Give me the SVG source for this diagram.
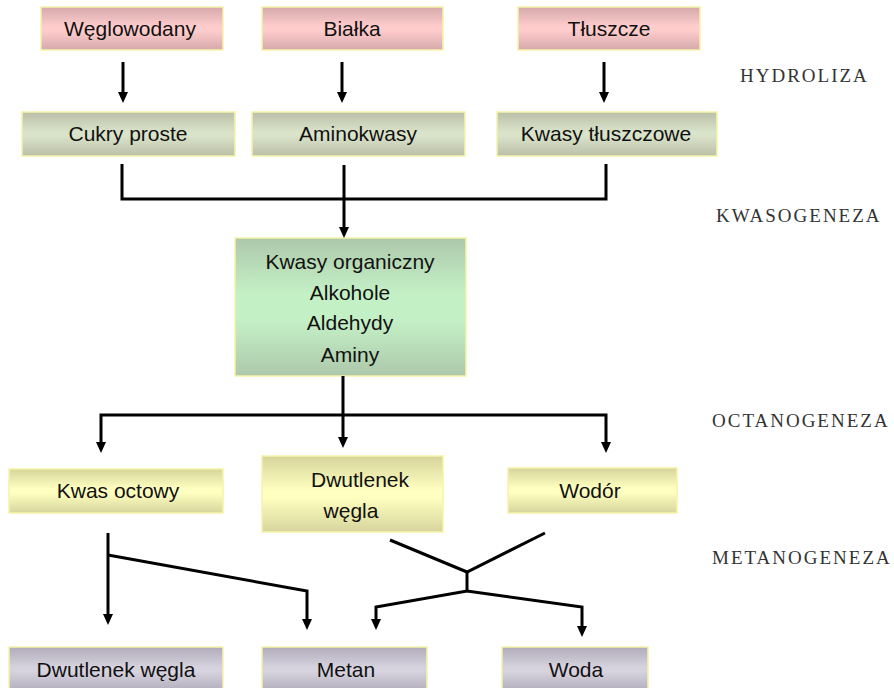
<svg xmlns="http://www.w3.org/2000/svg" width="894" height="688" viewBox="0 0 894 688">
<defs>
<linearGradient id="gPink" x1="0" y1="0" x2="0" y2="1">
<stop offset="0" stop-color="#d4a9ab"/><stop offset="0.45" stop-color="#ffcccc"/><stop offset="0.55" stop-color="#ffcccc"/><stop offset="1" stop-color="#d4a9ab"/>
</linearGradient>
<linearGradient id="gOlive" x1="0" y1="0" x2="0" y2="1">
<stop offset="0" stop-color="#bbbfa8"/><stop offset="0.45" stop-color="#d9e3c9"/><stop offset="0.55" stop-color="#d9e3c9"/><stop offset="1" stop-color="#bbbfa8"/>
</linearGradient>
<linearGradient id="gGreen" x1="0" y1="0" x2="0" y2="1">
<stop offset="0" stop-color="#adc8aa"/><stop offset="0.4" stop-color="#c4f0c6"/><stop offset="0.6" stop-color="#c4f0c6"/><stop offset="1" stop-color="#adc8aa"/>
</linearGradient>
<linearGradient id="gYellow" x1="0" y1="0" x2="0" y2="1">
<stop offset="0" stop-color="#d6d49c"/><stop offset="0.45" stop-color="#ffffc0"/><stop offset="0.55" stop-color="#ffffc0"/><stop offset="1" stop-color="#d6d49c"/>
</linearGradient>
<linearGradient id="gPurple" x1="0" y1="0" x2="0" y2="1">
<stop offset="0" stop-color="#b1abb9"/><stop offset="0.45" stop-color="#d6d2de"/><stop offset="0.55" stop-color="#d6d2de"/><stop offset="1" stop-color="#b1abb9"/>
</linearGradient>
</defs>
<style>
.box{stroke:#f4f4a8;stroke-width:1.5}
.t{font-family:"Liberation Sans",Arial,sans-serif;font-size:21px;fill:#111;text-anchor:middle}
.lab{font-family:"Liberation Serif","Times New Roman",serif;font-size:19px;fill:#333;letter-spacing:2px}
.c{fill:none;stroke:#000;stroke-width:3;stroke-linejoin:miter}
.h{fill:#000}
</style>
<rect width="894" height="688" fill="#fff"/>

<g id="n-weglowodany"><rect class="box" x="41" y="7" width="182" height="43" fill="url(#gPink)"/><text class="t" x="130" y="36">Węglowodany</text></g>
<g id="n-bialka"><rect class="box" x="262" y="7" width="181" height="43" fill="url(#gPink)"/><text class="t" x="352" y="36">Białka</text></g>
<g id="n-tluszcze"><rect class="box" x="518" y="7" width="182" height="43" fill="url(#gPink)"/><text class="t" x="609" y="36">Tłuszcze</text></g>

<g id="n-cukry"><rect class="box" x="22" y="112" width="213" height="44" fill="url(#gOlive)"/><text class="t" x="128" y="141">Cukry proste</text></g>
<g id="n-aminokwasy"><rect class="box" x="252" y="112" width="213" height="44" fill="url(#gOlive)"/><text class="t" x="358" y="141">Aminokwasy</text></g>
<g id="n-kwasyt"><rect class="box" x="497" y="112" width="220" height="44" fill="url(#gOlive)"/><text class="t" x="606" y="141">Kwasy tłuszczowe</text></g>

<g id="n-organiczne"><rect class="box" x="235" y="238" width="231" height="138" fill="url(#gGreen)"/>
<text class="t" x="350" y="269">Kwasy organiczny</text>
<text class="t" x="350" y="300">Alkohole</text>
<text class="t" x="350" y="330">Aldehydy</text>
<text class="t" x="350" y="362">Aminy</text></g>

<g id="n-kwasoctowy"><rect class="box" x="9" y="469" width="214" height="44" fill="url(#gYellow)"/><text class="t" x="118" y="498">Kwas octowy</text></g>
<g id="n-dwutlenek1"><rect class="box" x="262" y="456" width="181" height="76" fill="url(#gYellow)"/><text class="t" x="360" y="487">Dwutlenek</text><text class="t" x="351" y="518">węgla</text></g>
<g id="n-wodor"><rect class="box" x="508" y="468" width="169" height="45" fill="url(#gYellow)"/><text class="t" x="590" y="498">Wodór</text></g>

<g id="n-dwutlenek2"><rect class="box" x="9" y="647" width="214" height="45" fill="url(#gPurple)"/><text class="t" x="116" y="677">Dwutlenek węgla</text></g>
<g id="n-metan"><rect class="box" x="262" y="647" width="165" height="45" fill="url(#gPurple)"/><text class="t" x="346" y="677">Metan</text></g>
<g id="n-woda"><rect class="box" x="502" y="647" width="146" height="45" fill="url(#gPurple)"/><text class="t" x="576" y="677">Woda</text></g>

<g id="labels">
<text class="lab" x="740" y="82">HYDROLIZA</text>
<text class="lab" x="716" y="222">KWASOGENEZA</text>
<text class="lab" x="712" y="427">OCTANOGENEZA</text>
<text class="lab" x="712" y="564">METANOGENEZA</text>
</g>

<g id="connectors">
<path class="c" d="M123 62V93"/><path class="h" d="M118 92h10l-5 11z"/>
<path class="c" d="M342 62V93"/><path class="h" d="M337 92h10l-5 11z"/>
<path class="c" d="M604 62V93"/><path class="h" d="M599 92h10l-5 11z"/>

<path class="c" d="M122 164V199H606V164"/>
<path class="c" d="M344 165V228"/><path class="h" d="M339 227h10l-5 11z"/>

<path class="c" d="M343 376V438"/><path class="h" d="M338 437h10l-5 11z"/>
<path class="c" d="M101 443V415H606V443"/>
<path class="h" d="M96 442h10l-5 11z"/><path class="h" d="M601 442h10l-5 11z"/>

<path class="c" d="M108 533V615"/><path class="h" d="M103 614h10l-5 11z"/>
<path class="c" d="M108 555L307 591V620"/><path class="h" d="M302 619h10l-5 11z"/>

<path class="c" d="M390 540L467 572L545 533"/>
<path class="c" d="M467 572V591"/>
<path class="c" d="M376 620V607L467 591L582 607V627"/>
<path class="h" d="M371 619h10l-5 11z"/><path class="h" d="M577 626h10l-5 11z"/>
</g>
</svg>
